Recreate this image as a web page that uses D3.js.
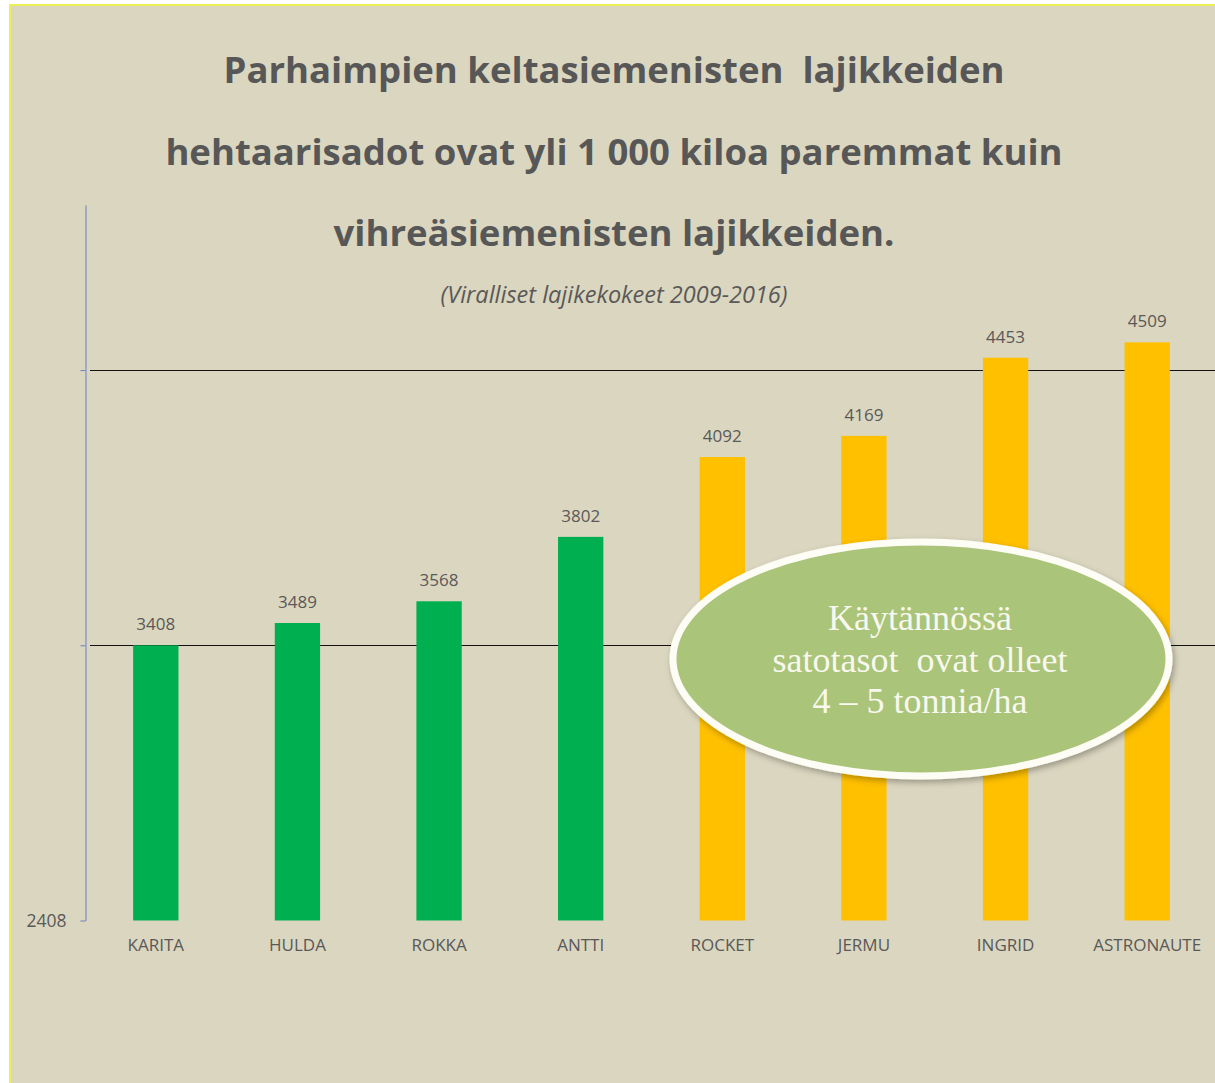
<!DOCTYPE html>
<html>
<head>
<meta charset="utf-8">
<script src="https://cdn.jsdelivr.net/npm/d3@7"></script>
<style>
    html, body { margin: 0; padding: 0; background: #ffffff; }
    #chart-area { width: 1215px; height: 1083px; }
    text { white-space: pre; }
</style>
</head>
<body>
<div id="chart-area"></div>
<script>
;(function () {
    'use strict';

    // Chart data
    const categories = ['KARITA', 'HULDA', 'ROKKA', 'ANTTI', 'ROCKET', 'JERMU', 'INGRID', 'ASTRONAUTE'];
    const yields = [3408, 3489, 3568, 3802, 4092, 4169, 4453, 4509];
    const groups = ['green', 'green', 'green', 'green', 'yellow', 'yellow', 'yellow', 'yellow'];
    const yTicks = [2408, 3408, 4408];
    const yDomain = [2408, 5008];
    const titleLines = [
        'Parhaimpien keltasiemenisten  lajikkeiden',
        'hehtaarisadot ovat yli 1 000 kiloa paremmat kuin',
        'vihreäsiemenisten lajikkeiden.'
    ];
    const subtitle = '(Viralliset lajikekokeet 2009-2016)';
    const noteLines = ['Käytännössä', 'satotasot  ovat olleet', '4 – 5 tonnia/ha'];

    const WIDTH = 1215;
    const HEIGHT = 1083;
    const TEXT = '#595959';
    const AXIS = '#6a7fc4';

    const svg = d3.select('#chart-area').append('svg')
        .attr('width', WIDTH)
        .attr('height', HEIGHT)
        .style('display', 'block');

    // Background with thin yellow frame on the top and left
    svg.append('rect')
        .attr('x', 0).attr('y', 0)
        .attr('width', WIDTH).attr('height', HEIGHT)
        .attr('fill', '#ffffff');
    svg.append('rect')
        .attr('x', 10).attr('y', 5)
        .attr('width', WIDTH).attr('height', HEIGHT)
        .attr('fill', '#dbd6bf')
        .attr('stroke', '#eeee55')
        .attr('stroke-width', 2);

    // Scales
    const xScale = d3.scaleBand()
        .domain(categories)
        .range([85, 1218])
        .paddingInner(0.68)
        .paddingOuter(0.34);

    const yScale = d3.scaleLinear()
        .domain(yDomain)
        .range([920.5, 205]);

    const fillMap = d3.scaleOrdinal()
        .domain(['green', 'yellow'])
        .range(['#00b050', '#ffc000']);

    // Gridlines (skip the baseline)
    svg.append('g')
        .selectAll('line')
        .data(yTicks.slice(1))
        .enter()
        .append('line')
        .attr('x1', 90)
        .attr('x2', WIDTH)
        .attr('y1', d => Math.round(yScale(d)) + 0.5)
        .attr('y2', d => Math.round(yScale(d)) + 0.5)
        .attr('stroke', '#111111')
        .attr('stroke-width', 1);

    // Y axis: only the minimum is labelled
    const yAxisCall = d3.axisLeft(yScale)
        .tickValues(yTicks)
        .tickSizeInner(5)
        .tickSizeOuter(0)
        .tickPadding(14)
        .tickFormat(d => d === yDomain[0] ? d : '');
    const yAxis = svg.append('g')
        .attr('transform', 'translate(85.5,0)')
        .call(yAxisCall);
    yAxis.select('.domain').attr('stroke', AXIS);
    yAxis.selectAll('.tick line').attr('stroke', AXIS);
    yAxis.selectAll('.tick text')
        .attr('fill', TEXT)
        .attr('font-family', '"Open Sans", sans-serif')
        .attr('font-size', '17.5px');

    // Bars
    svg.append('g')
        .selectAll('rect')
        .data(categories)
        .enter()
        .append('rect')
        .attr('x', d => xScale(d))
        .attr('y', (d, i) => yScale(yields[i]))
        .attr('width', xScale.bandwidth())
        .attr('height', (d, i) => yScale(yDomain[0]) - yScale(yields[i]))
        .attr('fill', (d, i) => fillMap(groups[i]));

    // Value labels
    svg.append('g')
        .selectAll('text')
        .data(categories)
        .enter()
        .append('text')
        .attr('x', d => xScale(d) + xScale.bandwidth() / 2)
        .attr('y', (d, i) => yScale(yields[i]) - 15)
        .attr('text-anchor', 'middle')
        .attr('fill', TEXT)
        .attr('font-family', '"Open Sans", sans-serif')
        .attr('font-size', '17px')
        .text((d, i) => yields[i]);

    // X axis labels
    const xAxisCall = d3.axisBottom(xScale).tickSize(0).tickPadding(19);
    const xAxis = svg.append('g')
        .attr('transform', 'translate(0,920)')
        .call(xAxisCall);
    xAxis.select('.domain').remove();
    xAxis.selectAll('.tick text')
        .attr('fill', TEXT)
        .attr('font-family', '"Open Sans", sans-serif')
        .attr('font-size', '17px');

    // Title
    svg.append('g')
        .selectAll('text')
        .data(titleLines)
        .enter()
        .append('text')
        .attr('x', 614)
        .attr('y', (d, i) => 83 + i * 81.5)
        .attr('text-anchor', 'middle')
        .attr('fill', '#575757')
        .attr('font-family', '"Open Sans", sans-serif')
        .attr('font-weight', 'bold')
        .attr('font-size', '36.5px')
        .text(d => d);

    svg.append('text')
        .attr('x', 614)
        .attr('y', 303)
        .attr('text-anchor', 'middle')
        .attr('fill', TEXT)
        .attr('font-family', '"Open Sans", sans-serif')
        .attr('font-style', 'italic')
        .attr('font-size', '23.5px')
        .text(subtitle);

    // Callout ellipse
    const defs = svg.append('defs');
    const shadow = defs.append('filter')
        .attr('id', 'shadow')
        .attr('x', '-20%').attr('y', '-20%')
        .attr('width', '140%').attr('height', '140%');
    shadow.append('feDropShadow')
        .attr('dx', 2).attr('dy', 3)
        .attr('stdDeviation', 3)
        .attr('flood-color', '#000000')
        .attr('flood-opacity', 0.3);

    svg.append('ellipse')
        .attr('cx', 921)
        .attr('cy', 659)
        .attr('rx', 248)
        .attr('ry', 117)
        .attr('fill', '#aac479')
        .attr('stroke', '#fdfdf5')
        .attr('stroke-width', 7)
        .attr('filter', 'url(#shadow)');

    svg.append('g')
        .selectAll('text')
        .data(noteLines)
        .enter()
        .append('text')
        .attr('x', 920)
        .attr('y', (d, i) => 630 + i * 41.5)
        .attr('text-anchor', 'middle')
        .attr('fill', '#f8f8ee')
        .attr('font-family', '"Liberation Serif", "DejaVu Serif", serif')
        .attr('font-size', '36px')
        .text(d => d);
})();
</script>
</body>
</html>
